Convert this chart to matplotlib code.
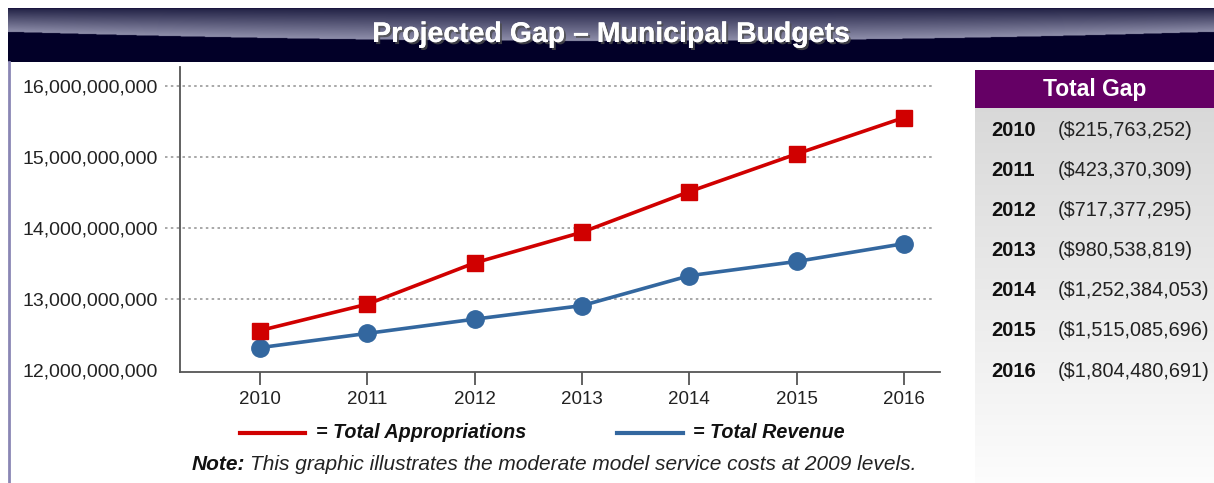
import numpy as np
import matplotlib
matplotlib.use("Agg")
import matplotlib.pyplot as plt
import matplotlib.patheffects as pe
from matplotlib.ticker import FuncFormatter

# data
years = [2010, 2011, 2012, 2013, 2014, 2015, 2016]
appropriations = [12.56e9, 12.93e9, 13.51e9, 13.94e9, 14.51e9, 15.04e9, 15.55e9]
revenue = [12.32e9, 12.52e9, 12.72e9, 12.91e9, 13.33e9, 13.53e9, 13.78e9]
gap_labels = ["($215,763,252)", "($423,370,309)", "($717,377,295)", "($980,538,819)",
              "($1,252,384,053)", "($1,515,085,696)", "($1,804,480,691)"]
y_ticks = [12e9, 13e9, 14e9, 15e9, 16e9]

RED = "#d00000"
BLUE = "#33679f"
SANS = ["Liberation Sans", "DejaVu Sans"]

W, H = 1214, 483
fig = plt.figure(figsize=(W / 100, H / 100), dpi=100)
fig.patch.set_facecolor("white")


def px_axes(x0, y0, x1, y1, **kw):
    """axes from pixel box (top-left origin)"""
    return fig.add_axes([x0 / W, 1 - y1 / H, (x1 - x0) / W, (y1 - y0) / H], **kw)


# title band: glossy highlight on top, dark navy below
tax = px_axes(8, 8, W, 62)
nx, ny = 600, 108
xx = np.linspace(-1, 1, nx)[None, :]
yy = np.linspace(0, 1, ny)[:, None]
edge = 0.61 - 0.17 * xx ** 2
hi_top = np.array([0.13, 0.13, 0.27])
hi_bot = np.array([0.56, 0.56, 0.67])
dark = np.array([0.01, 0.0, 0.16])
t = np.clip(yy / edge, 0, 1)[..., None]
img = np.where((yy < edge)[..., None], hi_top * (1 - t) + hi_bot * t, dark + 0 * t)
img[:2] = np.array([0.10, 0.08, 0.25])
tax.imshow(img, aspect="auto", extent=[0, 1, 0, 1], origin="upper")
tax.set_axis_off()
tax.text(0.5, 0.5, "Projected Gap \u2013 Municipal Budgets", ha="center", va="center",
         color="white", fontsize=20.5, fontweight="bold", family=SANS,
         path_effects=[pe.withSimplePatchShadow(offset=(1.5, -1.5), alpha=0.8), pe.Normal()])

# left border line
fig.add_artist(plt.Line2D([9 / W, 9 / W], [0, 1 - 62 / H], color="#8a86b4", lw=2))

# right panel: purple header + gray gradient body
hax = px_axes(975, 70, W, 108)
hax.set_facecolor("#650065")
hax.set_xticks([])
hax.set_yticks([])
for s in hax.spines.values():
    s.set_visible(False)
hax.text(0.5, 0.48, "Total Gap", ha="center", va="center", color="white",
         fontsize=16.5, fontweight="bold", family=SANS)

gax = px_axes(975, 108, W, H)
g = np.linspace(0, 1, 200)[:, None]
shade = 0.85 + 0.14 * g
gax.imshow(np.repeat(shade[..., None], 3, axis=2), aspect="auto",
           extent=[975, W, H, 108], vmin=0, vmax=1)
gax.set_xlim(975, W)
gax.set_ylim(H, 108)
gax.set_axis_off()
for i, (yr, lab) in enumerate(zip(years, gap_labels)):
    ypix = 130 + i * 40.2
    gax.text(991, ypix, str(yr), ha="left", va="center", fontsize=14.5,
             fontweight="bold", family=SANS, color="#111111")
    gax.text(1058, ypix, lab, ha="left", va="center", fontsize=14.3,
             family=SANS, color="#222222")

# main line chart
ax = px_axes(180, 67, 940, 372)
ax.set_xlim(2009.255, 2016.335)
ax.set_ylim(11.978e9, 16.26e9)

for yv in y_ticks[1:]:
    ax.axhline(yv, xmin=-0.02, xmax=0.993, color="#999999", lw=1.2,
               ls=(0, (1.5, 2)), clip_on=False, zorder=1)

ax.plot(years, revenue, color=BLUE, lw=2.6, marker="o", ms=12.5, zorder=3, clip_on=False)
ax.plot(years, appropriations, color=RED, lw=2.6, marker="s", ms=11.5, zorder=4, clip_on=False)

for s in ["top", "right"]:
    ax.spines[s].set_visible(False)
for s in ["left", "bottom"]:
    ax.spines[s].set_color("#555555")
    ax.spines[s].set_linewidth(1.3)

ax.set_xticks(years)
ax.set_yticks(y_ticks)
ax.yaxis.set_major_formatter(FuncFormatter(lambda v, p: f"{v:,.0f}"))
ax.tick_params(axis="x", direction="out", length=9, width=1.3, color="#555555",
               pad=5, labelsize=13.5, labelcolor="#222222")
ax.tick_params(axis="y", length=0, pad=16, labelsize=14, labelcolor="#222222")
for lab in ax.get_xticklabels() + ax.get_yticklabels():
    lab.set_family(SANS)

# legend drawn as lines + labels
fig.add_artist(plt.Line2D([240 / W, 305 / W], [1 - 433 / H] * 2, color=RED, lw=3))
fig.add_artist(plt.Line2D([617 / W, 683 / W], [1 - 433 / H] * 2, color=BLUE, lw=3))
fig.text(316 / W, 1 - 433 / H, "= Total Appropriations", ha="left", va="center",
         fontsize=14.2, fontweight="bold", style="italic", family=SANS, color="#111111")
fig.text(693 / W, 1 - 433 / H, "= Total Revenue", ha="left", va="center",
         fontsize=14.2, fontweight="bold", style="italic", family=SANS, color="#111111")

note_y = 1 - 465 / H
nt = fig.text(192 / W, note_y, "Note:", ha="left", va="center", fontsize=15,
              fontweight="bold", style="italic", family=SANS, color="#111111")
fig.canvas.draw()
bb = nt.get_window_extent()
fig.text((bb.x1 + 5) / W, note_y,
         "This graphic illustrates the moderate model service costs at 2009 levels.",
         ha="left", va="center", fontsize=15, style="italic", family=SANS, color="#222222")

fig.savefig("out.png", dpi=100)
